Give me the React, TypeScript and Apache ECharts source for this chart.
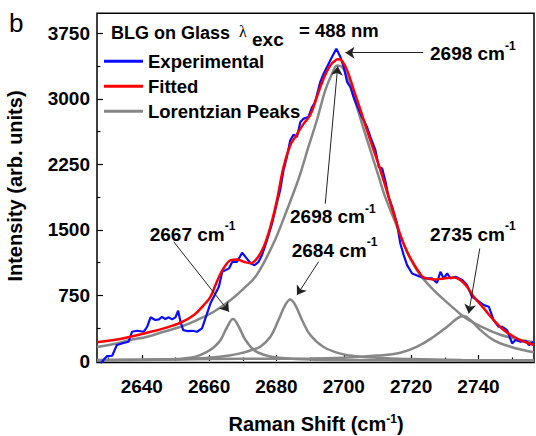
import React, { useEffect, useRef } from 'react';
import * as echarts from 'echarts';

const FONT = "'Liberation Sans', Arial, Helvetica, sans-serif";

// Axis ticks
const xTicks = [2640, 2660, 2680, 2700, 2720, 2740];
const xMinorTicks = [2630, 2650, 2670, 2690, 2710, 2730, 2750];
const yTicks = [0, 750, 1500, 2250, 3000, 3750];
const yMinorTicks = [375, 1125, 1875, 2625, 3375];

// Experimental spectrum (blue)
const expX = [2627.8, 2628.8, 2629.7, 2631.2, 2632.6, 2634.6, 2636.1, 2637.1, 2638.6, 2640.6, 2641.6, 2642.6, 2644.0, 2645.1, 2646.0, 2647.0, 2648.0, 2649.0, 2650.0, 2650.8, 2651.5, 2652.3, 2653.5, 2655.0, 2656.4, 2657.9, 2659.4, 2660.4, 2661.4, 2662.9, 2663.9, 2664.9, 2665.9, 2666.9, 2668.3, 2669.8, 2670.8, 2672.3, 2673.5, 2674.7, 2675.7, 2677.2, 2678.7, 2680.1, 2681.1, 2682.1, 2683.1, 2684.1, 2685.1, 2686.1, 2687.1, 2688.1, 2689.5, 2690.6, 2691.5, 2693.0, 2694.0, 2695.5, 2696.5, 2697.8, 2699.0, 2700.0, 2701.0, 2702.0, 2702.9, 2703.9, 2705.4, 2706.9, 2707.9, 2709.4, 2710.4, 2711.4, 2712.3, 2713.3, 2714.5, 2715.8, 2716.8, 2717.8, 2718.8, 2720.3, 2722.3, 2724.2, 2726.2, 2727.7, 2728.7, 2729.7, 2730.7, 2731.7, 2733.2, 2735.2, 2736.6, 2738.1, 2739.6, 2741.6, 2743.1, 2744.5, 2746.0, 2747.0, 2748.5, 2750.0, 2751.0, 2752.5, 2754.0, 2755.0, 2756.4];
const expY = [-30, 20, 57, 60, 183, 206, 221, 335, 346, 335, 392, 500, 469, 477, 506, 480, 500, 477, 500, 575, 449, 354, 343, 346, 335, 374, 545, 660, 735, 849, 1021, 1040, 1060, 1135, 1135, 1238, 1192, 1120, 1097, 1135, 1212, 1383, 1574, 1803, 1955, 2183, 2335, 2526, 2590, 2564, 2735, 2774, 2793, 2907, 2964, 3192, 3288, 3403, 3478, 3574, 3478, 3364, 3192, 3135, 3021, 2926, 2793, 2678, 2564, 2412, 2221, 2202, 2069, 1878, 1750, 1574, 1345, 1212, 1097, 1002, 971, 945, 945, 895, 1021, 945, 1002, 945, 964, 926, 869, 735, 697, 640, 621, 469, 392, 392, 354, 202, 240, 221, 232, 183, 221];

// Fitted curve (red)
const fitX = [2626.7, 2631.7, 2636.6, 2641.6, 2646.5, 2651.5, 2655.5, 2658.4, 2660.4, 2661.9, 2663.4, 2664.9, 2666.4, 2668.3, 2670.3, 2672.3, 2674.2, 2676.2, 2678.2, 2680.1, 2682.1, 2684.1, 2685.6, 2688.1, 2690.0, 2692.0, 2694.0, 2696.0, 2697.5, 2698.5, 2699.5, 2701.0, 2703.0, 2705.0, 2706.9, 2708.9, 2710.9, 2712.9, 2714.8, 2716.8, 2718.8, 2720.8, 2722.5, 2723.7, 2726.7, 2729.7, 2732.7, 2734.6, 2736.6, 2738.6, 2741.6, 2744.5, 2747.5, 2750.5, 2753.5, 2756.5];
const fitY = [215, 240, 278, 324, 374, 438, 526, 640, 735, 869, 1002, 1097, 1154, 1162, 1135, 1120, 1174, 1306, 1535, 1830, 2221, 2469, 2564, 2717, 2812, 3021, 3231, 3383, 3440, 3452, 3432, 3326, 3097, 2869, 2640, 2412, 2183, 1930, 1690, 1440, 1250, 1110, 1010, 957, 934, 945, 957, 926, 849, 735, 602, 469, 354, 278, 221, 183];

// Lorentzian peaks (gray)
const peak2698X = [2626.7, 2631.7, 2636.6, 2641.6, 2646.5, 2651.5, 2656.4, 2661.4, 2666.4, 2670.3, 2674.1, 2679.1, 2683.1, 2685.6, 2687.1, 2689.5, 2692.0, 2694.5, 2696.5, 2698.0, 2699.5, 2701.0, 2703.0, 2705.4, 2707.9, 2710.4, 2712.3, 2715.8, 2718.8, 2720.8, 2722.8, 2726.7, 2732.7, 2736.6, 2741.6, 2746.5, 2751.5, 2756.5];
const peak2698Y = [160, 194, 240, 278, 335, 392, 469, 564, 697, 831, 983, 1345, 1726, 1980, 2145, 2450, 2755, 3097, 3288, 3383, 3364, 3250, 3021, 2717, 2412, 2107, 1878, 1540, 1250, 1100, 980, 811, 602, 480, 380, 300, 250, 215];

const peak2667X = [2626.7, 2640, 2650, 2652.5, 2656, 2659.4, 2661.5, 2663.4, 2665.4, 2667.1, 2668.8, 2670.8, 2673.3, 2676, 2680, 2690, 2700, 2720, 2756.5];
const peak2667Y = [10, 15, 22, 30, 50, 106, 160, 240, 392, 480, 392, 240, 126, 75, 40, 18, 12, 6, 3];

const peak2684X = [2626.7, 2640, 2650, 2660, 2666, 2670, 2672.2, 2675.2, 2678.2, 2680.6, 2682.6, 2684.1, 2685.6, 2687.6, 2690.0, 2694.0, 2699.0, 2705, 2710, 2720, 2735, 2756.5];
const peak2684Y = [7, 12, 20, 38, 62, 95, 120, 164, 278, 469, 640, 705, 640, 469, 300, 160, 85, 50, 38, 22, 12, 8];

const peak2735X = [2626.7, 2650, 2670, 2690, 2700, 2710, 2716.8, 2721.8, 2726.7, 2730.7, 2733.7, 2735.6, 2737.6, 2740.6, 2744.5, 2749.5, 2756.5];
const peak2735Y = [12, 18, 25, 28, 38, 62, 95, 164, 278, 392, 488, 514, 469, 354, 240, 164, 100];

// Annotations: label text, arrow start and arrow tip (data coordinates)
const annotationLabels = ['2698', '2698', '2684', '2667', '2735'];
const arrowFrom = [[2723.6, 3528], [2694.5, 1800], [2692.5, 1135], [2649.5, 1364], [2740.4, 1288]];
const arrowTo = [[2700.5, 3528], [2698.2, 3372], [2686.1, 754], [2665.9, 563], [2737.1, 545]];

const zip = (xs: number[], ys: number[]) => xs.map((x, i) => [x, ys[i]]);

// label positions (pixels): left x, center y
const annotationPos = [[430, 53.5], [290, 216.7], [291.7, 250], [149.7, 234], [430, 234]];

export default function App() {
  const ref = useRef<HTMLDivElement>(null);
  useEffect(() => {
    if (!ref.current) return;
    const chart = echarts.init(ref.current, undefined, { renderer: 'svg' });
    const gray = '#878787';
    const grayLine = { width: 2.5, color: gray };
    const supRich = {
      s: { fontSize: 12, fontWeight: 'bold', fontFamily: FONT, fill: '#000', verticalAlign: 'top', lineHeight: 12 },
    };
    const supRichSmall = {
      s: { fontSize: 12, fontWeight: 'bold', fontFamily: FONT, fill: '#000', verticalAlign: 'top', lineHeight: 9 },
    };
    const annotationGraphics = annotationLabels.map((t, i) => ({
      type: 'text',
      x: annotationPos[i][0],
      y: annotationPos[i][1],
      style: {
        text: t + ' cm{s|-1}',
        fontSize: 19,
        fontWeight: 'bold',
        fontFamily: FONT,
        fill: '#000',
        lineHeight: 28,
        align: 'left',
        verticalAlign: 'middle',
        rich: supRich,
      },
    }));
    const plain = (v: number) => String(v);

    const option: any = {
      animation: false,
      backgroundColor: '#fff',
      grid: {
        left: 97,
        right: 2,
        top: 13.3,
        bottom: 73.5,
        show: true,
        borderColor: '#000',
        borderWidth: 1.5,
        backgroundColor: 'transparent',
        containLabel: false,
      },
      xAxis: [
        {
          type: 'value',
          min: 2626.7,
          max: 2756.5,
          axisLine: { show: false },
          splitLine: { show: false },
          axisTick: { show: true, inside: true, length: 6, customValues: xTicks, lineStyle: { color: '#000', width: 1.2 } },
          axisLabel: {
            customValues: xTicks,
            formatter: plain,
            margin: 14,
            fontSize: 19,
            fontWeight: 'bold',
            fontFamily: FONT,
            color: '#000',
          },
        },
        {
          type: 'value',
          min: 2626.7,
          max: 2756.5,
          position: 'bottom',
          axisLine: { show: false },
          splitLine: { show: false },
          axisTick: { show: true, inside: true, length: 3.5, customValues: xMinorTicks, lineStyle: { color: '#000', width: 1.2 } },
          axisLabel: { show: false },
        },
      ],
      yAxis: [
        {
          type: 'value',
          min: -17,
          max: 3979,
          axisLine: { show: false },
          splitLine: { show: false },
          axisTick: { show: true, inside: true, length: 6, customValues: yTicks, lineStyle: { color: '#000', width: 1.2 } },
          axisLabel: {
            customValues: yTicks,
            formatter: plain,
            margin: 7,
            fontSize: 19,
            fontWeight: 'bold',
            fontFamily: FONT,
            color: '#000',
          },
        },
        {
          type: 'value',
          min: -17,
          max: 3979,
          position: 'left',
          axisLine: { show: false },
          splitLine: { show: false },
          axisTick: { show: true, inside: true, length: 3.5, customValues: yMinorTicks, lineStyle: { color: '#000', width: 1.2 } },
          axisLabel: { show: false },
        },
      ],
      legend: {
        data: ['Experimental', 'Fitted', 'Lorentzian Peaks'],
        orient: 'vertical',
        left: 104,
        top: 51.7,
        padding: 0,
        itemGap: 6,
        itemWidth: 39,
        itemHeight: 3,
        icon: 'rect',
        selectedMode: false,
        textStyle: { fontSize: 18.5, fontWeight: 'bold', fontFamily: FONT, color: '#000' },
      },
      series: [
        { name: 'Lorentzian Peaks', type: 'line', data: zip(peak2698X, peak2698Y), smooth: 0.4, symbol: 'none', color: gray, lineStyle: grayLine, z: 2 },
        { name: 'Lorentzian Peaks', type: 'line', data: zip(peak2667X, peak2667Y), smooth: 0.4, symbol: 'none', color: gray, lineStyle: grayLine, z: 2 },
        { name: 'Lorentzian Peaks', type: 'line', data: zip(peak2684X, peak2684Y), smooth: 0.4, symbol: 'none', color: gray, lineStyle: grayLine, z: 2 },
        { name: 'Lorentzian Peaks', type: 'line', data: zip(peak2735X, peak2735Y), smooth: 0.4, symbol: 'none', color: gray, lineStyle: grayLine, z: 2 },
        { name: 'Experimental', type: 'line', data: zip(expX, expY), symbol: 'none', color: '#0b0bff', lineStyle: { width: 2.2, color: '#0b0bff' }, z: 3 },
        {
          name: 'Fitted',
          type: 'line',
          data: zip(fitX, fitY),
          smooth: 0.4,
          symbol: 'none',
          color: '#ff0000',
          lineStyle: { width: 2.5, color: '#ff0000' },
          z: 4,
          markLine: {
            silent: true,
            symbol: ['none', 'arrow'],
            symbolSize: 9,
            label: { show: false },
            lineStyle: { color: '#222', width: 1, type: 'solid' },
            emphasis: { disabled: true },
            data: arrowFrom.map((f, i) => [{ coord: f }, { coord: arrowTo[i] }]),
          },
        },
      ],
      graphic: [
        { type: 'text', x: 9, y: 23, style: { text: 'b', fontSize: 26, fontFamily: FONT, fill: '#000', align: 'left', verticalAlign: 'middle' } },
        { type: 'text', x: 111, y: 33, style: { text: 'BLG on Glass', fontSize: 18, fontWeight: 'bold', fontFamily: FONT, fill: '#000', align: 'left', verticalAlign: 'middle' } },
        { type: 'text', x: 239, y: 31, style: { text: 'λ', fontSize: 16, fontFamily: "'Liberation Serif', 'DejaVu Serif', serif", fill: '#000', align: 'left', verticalAlign: 'middle' } },
        { type: 'text', x: 252, y: 39, style: { text: 'exc', fontSize: 19, fontWeight: 'bold', fontFamily: FONT, fill: '#000', align: 'left', verticalAlign: 'middle' } },
        { type: 'text', x: 299, y: 30, style: { text: '= 488 nm', fontSize: 18.5, fontWeight: 'bold', fontFamily: FONT, fill: '#000', align: 'left', verticalAlign: 'middle' } },
        ...annotationGraphics,
        {
          type: 'text',
          x: 316,
          y: 424,
          style: {
            text: 'Raman Shift (cm{s|-1})',
            fontSize: 20,
            fontWeight: 'bold',
            fontFamily: FONT,
            fill: '#000',
            lineHeight: 22,
            align: 'center',
            verticalAlign: 'middle',
            rich: supRichSmall,
          },
        },
        {
          type: 'text',
          x: 15,
          y: 186,
          rotation: Math.PI / 2,
          style: { text: 'Intensity (arb. units)', fontSize: 20, fontWeight: 'bold', fontFamily: FONT, fill: '#000', align: 'center', verticalAlign: 'middle' },
        },
      ],
    };
    chart.setOption(option);
    return () => chart.dispose();
  }, []);
  return <div ref={ref} style={{ position: 'fixed', left: 0, top: 0, width: 536, height: 436 }} />;
}
